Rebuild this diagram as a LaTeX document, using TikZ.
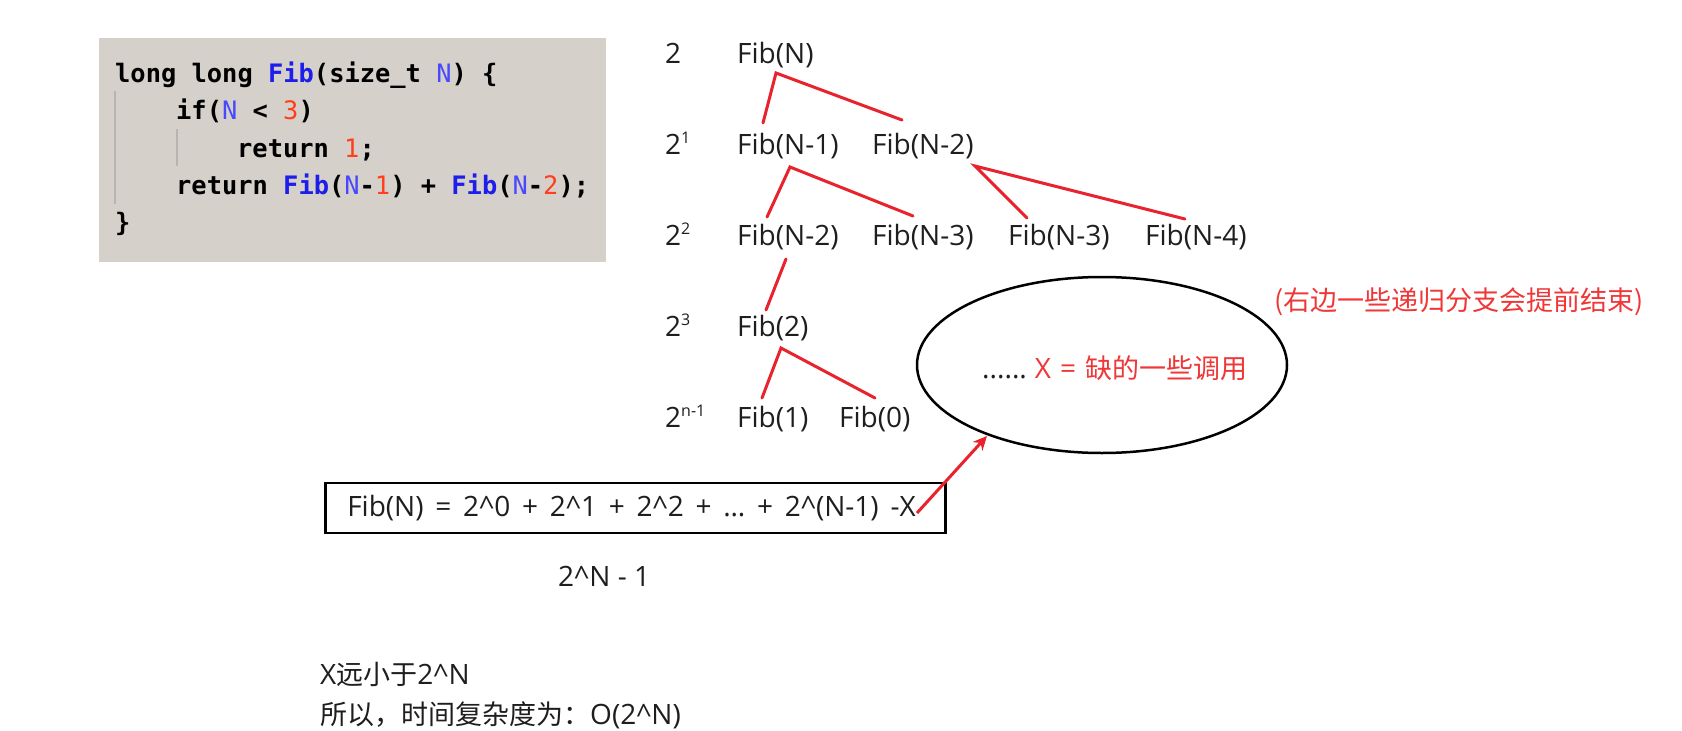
\documentclass[tikz,border=0pt]{standalone}
\usepackage{fontspec}
\setmainfont{Open Sans}
\newfontfamily\cjk{Noto Sans CJK SC}
\newfontfamily\codefont{DejaVu Sans Mono}
\usetikzlibrary{arrows.meta,shapes.geometric}
\definecolor{codebg}{RGB}{214,208,203}
\definecolor{fibblue}{RGB}{30,30,235}
\definecolor{nblue}{RGB}{72,72,255}
\definecolor{numred}{RGB}{255,62,30}
\definecolor{lred}{RGB}{232,35,45}
\definecolor{tred}{RGB}{240,55,55}
\definecolor{txt}{RGB}{30,30,30}
\definecolor{guide}{RGB}{185,180,175}
\newcommand\cj[1]{{\cjk\fontsize{27}{29}\selectfont #1}}
\newcommand\kb[1]{\textcolor{fibblue}{#1}}
\newcommand\kn[1]{{\mdseries\textcolor{nblue}{#1}}}
\newcommand\kr[1]{{\mdseries\textcolor{numred}{#1}}}
\newcommand\sups[1]{\raisebox{11pt}{\fontsize{16}{16}\selectfont #1}}
\begin{document}
\begin{tikzpicture}[x=1pt,y=-1pt,
  lbl/.style={anchor=base west, inner sep=0pt, text=txt, font=\fontsize{28}{30}\selectfont},
  codeline/.style={anchor=base west, inner sep=0pt, text=black, font=\codefont\bfseries\fontsize{25.4}{27}\selectfont},
  treeline/.style={draw=lred, line width=3pt, line cap=round},
  guideline/.style={draw=guide, line width=1.2pt}]
\useasboundingbox (0,0) rectangle (1682,731);
\fill[white] (0,0) rectangle (1682,731);

% code block
\node[fill=codebg, minimum width=507pt, minimum height=224pt, inner sep=0pt, anchor=north west] (codebox) at (99,37.5) {};
\coordinate (g1t) at (115,91); \coordinate (g1b) at (115,204);
\coordinate (g2t) at (177,129); \coordinate (g2b) at (177,166);
\draw[guideline] (g1t) -- (g1b);
\draw[guideline] (g2t) -- (g2b);
\node[codeline] (c1) at (115,82) {long long \kb{Fib}(size\_t \kn{N}) \{};
\node[codeline] (c2) at (176,119) {if(\kn{N} < \kr{3})};
\node[codeline] (c3) at (237,157) {return \kr{1};};
\node[codeline] (c4) at (176,194) {return \kb{Fib}(\kn{N}-\kr{1}) + \kb{Fib}(\kn{N}-\kr{2});};
\node[codeline] (c5) at (115,231) {\}};

% level labels
\node[lbl] (l0) at (665,63) {2};
\node[lbl] (l1) at (665,154) {2\sups{1}};
\node[lbl] (l2) at (665,245) {2\sups{2}};
\node[lbl] (l3) at (665,336) {2\sups{3}};
\node[lbl] (l4) at (665,427) {2\sups{n-1}};

% tree nodes
\node[lbl] (f0) at (737,63) {Fib(N)};
\node[lbl] (f1a) at (737,154) {Fib(N-1)};
\node[lbl] (f1b) at (872,154) {Fib(N-2)};
\node[lbl] (f2a) at (737,245) {Fib(N-2)};
\node[lbl] (f2b) at (872,245) {Fib(N-3)};
\node[lbl] (f2c) at (1008,245) {Fib(N-3)};
\node[lbl] (f2d) at (1145,245) {Fib(N-4)};
\node[lbl] (f3) at (737,336) {Fib(2)};
\node[lbl] (f4a) at (737,427) {Fib(1)};
\node[lbl] (f4b) at (839,427) {Fib(0)};

% tree edges
\coordinate (a0) at (776,73);
\coordinate (e1a) at (763,123);
\coordinate (e1b) at (902,120);
\coordinate (a1) at (790,167);
\coordinate (e2a) at (767,217);
\coordinate (e2b) at (913,216);
\coordinate (a1b) at (975,166);
\coordinate (e2c) at (1027,218);
\coordinate (e2d) at (1185,219);
\coordinate (a2) at (786,259);
\coordinate (e3) at (766,310);
\coordinate (a3) at (781,348);
\coordinate (e4a) at (762,398);
\coordinate (e4b) at (875,398);
\draw[treeline] (e1a) -- (a0) -- (e1b);
\draw[treeline] (e2a) -- (a1) -- (e2b);
\draw[treeline] (e2c) -- (a1b) -- (e2d);
\draw[treeline] (a2) -- (e3);
\draw[treeline] (e4a) -- (a3) -- (e4b);

% ellipse
\node[draw=black, ellipse, line width=2.5pt, minimum width=370pt, minimum height=176pt, inner sep=0pt] (ell) at (1102,365) {};
\node[lbl] (etext) at (982,378) {......\hspace{8pt}\textcolor{tred}{X\hspace{9pt}=\hspace{9pt}\cj{缺的一些调用}}};
\node[lbl, text=tred] (note) at (1274,310) {\cj{(右边一些递归分支会提前结束)}};

% formula
\node[draw=black, line width=2.5pt, anchor=west, minimum height=50pt, text width=576pt, inner xsep=22pt, inner ysep=0pt, align=left, text=txt, font=\fontsize{28}{30}\selectfont] (formula) at (324,508) {\spaceskip=0.42em plus 0.1em\relax Fib(N) = 2\textasciicircum0 + 2\textasciicircum1 + 2\textasciicircum2 + … + 2\textasciicircum(N-1) -X};
\coordinate (astart) at (917,513);
\coordinate (aend) at (987,436);
\draw[draw=lred, line width=3pt, -{Stealth[length=14pt,width=13pt]}] (astart) -- (aend);

\node[lbl] (sum) at (558,586) {2\textasciicircum N - 1};
\node[lbl] (b1) at (320,684) {X\cj{远小于}2\textasciicircum N};
\node[lbl] (b2) at (320,724) {\cj{所以，时间复杂度为：}O(2\textasciicircum N)};
\end{tikzpicture}
\end{document}
